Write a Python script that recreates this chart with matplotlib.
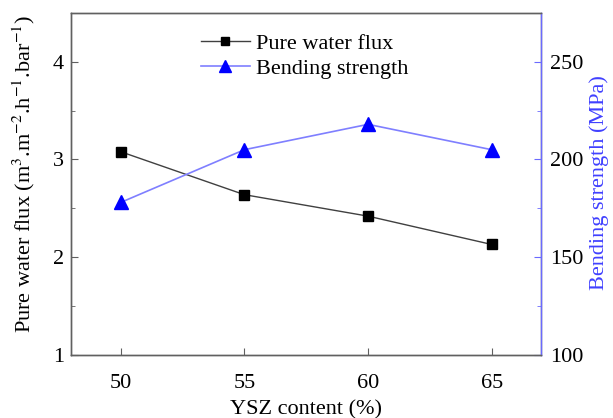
import matplotlib
matplotlib.use("Agg")
import matplotlib.pyplot as plt
from matplotlib.ticker import MultipleLocator

plt.rcParams["font.family"] = ["Liberation Serif", "DejaVu Serif"]
plt.rcParams["mathtext.fontset"] = "stix"
plt.rcParams["font.size"] = 16

ysz_content = [50, 55, 60, 65]
water_flux = [3.08, 2.64, 2.42, 2.13]
bending_strength = [178, 205, 218, 205]
x_ticks = [50, 55, 60, 65]

fig = plt.figure(figsize=(6.13, 4.18), dpi=100)
ax = fig.add_axes([0.116, 0.151, 0.767, 0.818])
ax2 = ax.twinx()

l1, = ax.plot(ysz_content, water_flux, color="#404040", lw=1.0,
              marker="s", ms=7.5, mfc="black", mec="black",
              label="Pure water flux")
l2, = ax2.plot(ysz_content, bending_strength, color="#7f7fff", lw=1.2,
               marker="^", ms=9.5, mfc="#0000ff", mec="#0000ff",
               label="Bending strength")

ax.set_xlim(48.0, 67.0)
ax.set_ylim(1, 4.5)
ax2.set_ylim(100, 275)
ax.set_xticks(x_ticks)
ax.set_yticks([1, 2, 3, 4])
ax.yaxis.set_minor_locator(MultipleLocator(0.5))
ax2.set_yticks([100, 150, 200, 250])
ax2.yaxis.set_minor_locator(MultipleLocator(25))

for a in (ax, ax2):
    for s in a.spines.values():
        s.set_color("#606060")
        s.set_linewidth(1.0)
ax2.spines["right"].set_color("#6a6aff")

ax.tick_params(axis="both", which="both", direction="in", colors="#606060",
               labelcolor="black", labelsize=16)
ax.tick_params(axis="y", which="major", length=5)
ax.tick_params(axis="y", which="minor", length=3)
ax.tick_params(axis="x", which="major", length=5, pad=14)
ax.tick_params(axis="y", pad=5)
ax2.tick_params(axis="y", which="both", direction="in", colors="#6a6aff",
                labelcolor="black", labelsize=16, pad=6)
ax2.tick_params(axis="y", which="major", length=5)
ax2.tick_params(axis="y", which="minor", length=3)

ax.set_xlabel("YSZ content (%)", fontsize=16, labelpad=5)
ax.set_ylabel(r"Pure water flux (m$^{3}$.m$^{-2}$.h$^{-1}$.bar$^{-1}$)",
              fontsize=16)
ax.yaxis.set_label_coords(-0.072, 0.53)
ax2.set_ylabel("Bending strength (MPa)", fontsize=16, color="#4040ff")
ax2.yaxis.set_label_coords(1.103, 0.505)

ax.legend(handles=[l1, l2], loc="upper center", bbox_to_anchor=(0.497, 1.0),
          frameon=False, fontsize=16, handlelength=2.2, handletextpad=0.3,
          labelspacing=0.2, markerscale=0.85)

fig.savefig("out.png", dpi=100)
